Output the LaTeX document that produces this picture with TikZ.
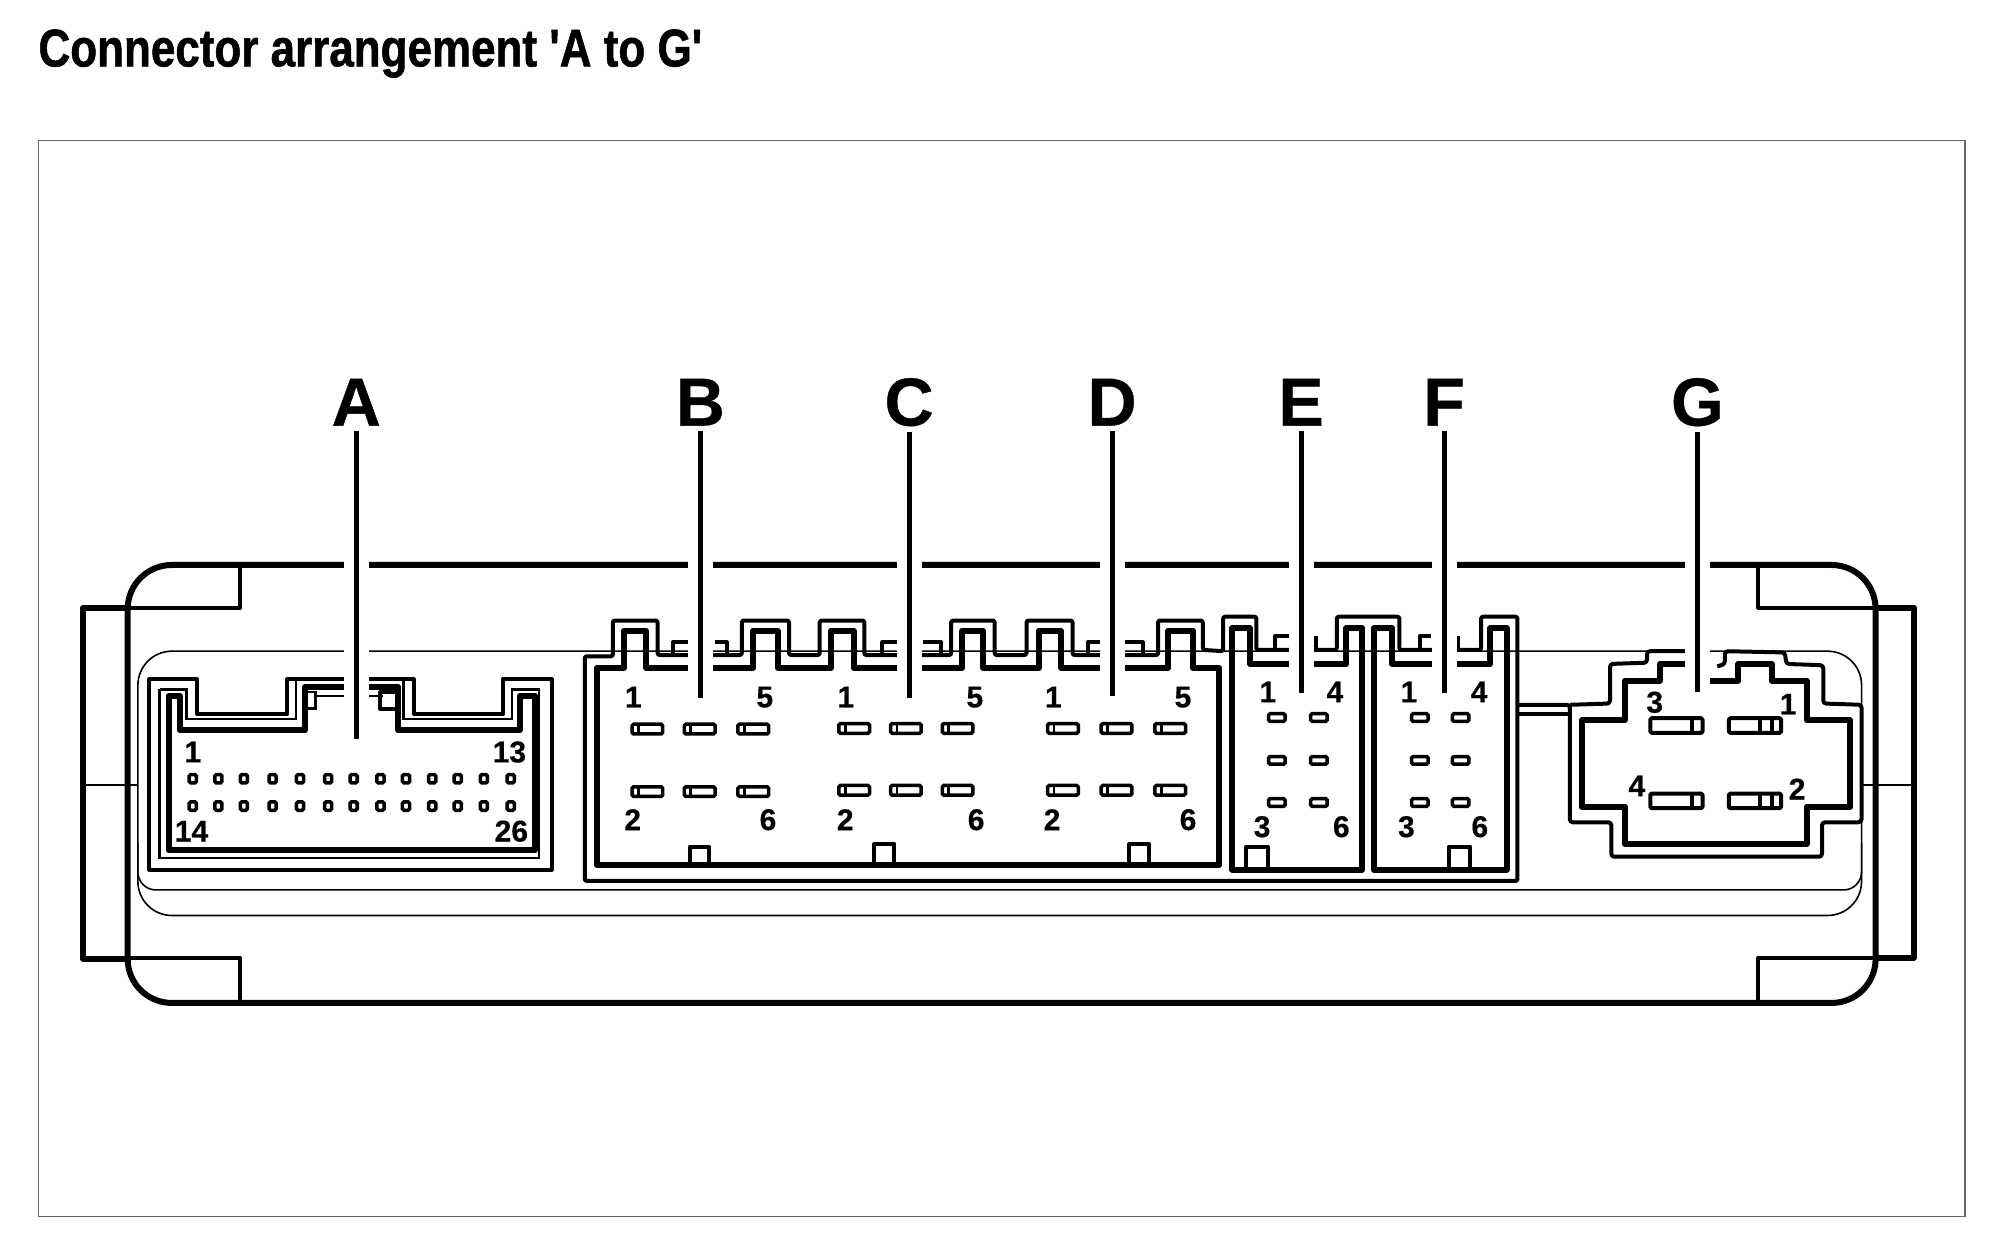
\documentclass[tikz,border=0pt]{standalone}
\usepackage{fontspec}
\setmainfont{Liberation Sans}
\newfontface\titlefont{Liberation Sans Bold}[FakeBold=1.2]
\newfontface\markfont{Liberation Sans Bold}[FakeBold=0.5]
\tikzset{
  bodyline/.style={line width=6pt,line join=round},
  wallline/.style={line width=4pt,line join=round},
  thinline/.style={line width=1.6pt},
  pinline/.style={line width=3.5pt,rounded corners=1.5pt},
  tag/.style={font=\markfont\fontsize{68}{68}\selectfont,inner sep=5.5pt},
  num/.style={font=\markfont\fontsize{30}{30}\selectfont,inner sep=0pt},
  leader/.style={line width=5pt},
  halo/.style={line width=25pt,white},
}
\begin{document}
\begin{tikzpicture}[x=1.2768pt,y=-1.2768pt]
\useasboundingbox (0,0) rectangle (1568,973.5);
\node[anchor=base west,inner sep=0pt] (title) at (30,52)
  {\scalebox{0.83}[1]{\titlefont\fontsize{53}{53}\selectfont Connector arrangement 'A to G'}};
\draw[line width=1.3pt,black!60] (30,110) rectangle (1539,953);
% housing
\draw[bodyline,rounded corners=44pt] (100,442.5) rectangle (1469,785.5);
\draw[wallline] (188,443)--(188,476)--(100,476);
\draw[wallline] (188,785)--(188,750)--(100,750);
\draw[wallline] (1377,443)--(1377,476)--(1469,476);
\draw[wallline] (1377,785)--(1377,750)--(1469,750);
\draw[bodyline] (100,476)--(65,476)--(65,751)--(100,751);
\draw[bodyline] (1469,476)--(1499,476)--(1499,750)--(1469,750);
\draw[thinline] (65,615)--(108,615);
\draw[thinline] (1459,615)--(1499,615);
% panel
\draw[thinline,rounded corners=34pt] (108,510)--(1458,510)--(1458,717)--(108,717)--cycle;
\draw[thinline,rounded corners=18pt] (108,660)--(108,697)--(1458,697)--(1458,660);
% connector A
\draw[wallline] (117,532)--(154,532)--(154,559)--(225,559)--(225,532)--(324,532)--(324,559)--(394,559)--(394,532)--(432,532)--(432,681)--(117,681)--cycle;
\draw[line width=2.5pt] (125,540)--(146,540)--(146,563)--(232,563)--(232,532);
\draw[line width=2.5pt] (316,532)--(316,563)--(401,563)--(401,540)--(422,540)--(422,672)--(125,672)--(125,540);
\draw[bodyline] (132,545)--(141,545)--(141,572)--(239,572)--(239,538)--(312,538)--(312,572)--(407,572)--(407,545)--(419,545)--(419,666)--(132,666)--cycle;
\draw[line width=2.5pt] (239,542)--(247,542)--(247,555)--(239,555);
\draw[line width=2.5pt] (247,545)--(300,545);
\draw[wallline] (312,542)--(298,542)--(298,555)--(312,555);
\foreach \x in {151,171,191,213.5,235,257,277,298,318,338.5,358.5,379,400}{
  \draw[pinline] (\x-2.8,606.6) rectangle (\x+2.8,613.2);
  \draw[pinline] (\x-2.8,628) rectangle (\x+2.8,634.6);
}
% connectors B to F
\draw[wallline,rounded corners=2pt] (458,690)--(458,514)--(480,514)--(480,486)--(515,486)--(515,513)--(581,513)--(581,486)--(618,486)--(618,513)--(642,513)--(642,486)--(677,486)--(677,513)--(745,513)--(745,486)--(779,486)--(779,513)--(804,513)--(804,486)--(840,486)--(840,513)--(907,513)--(907,486)--(942,486)--(942,509)--(958,510)--(958,483)--(984,483)--(984,509)--(1047,509)--(1047,483)--(1096,483)--(1096,509)--(1160,509)--(1160,483)--(1188.5,483)--(1188.5,690)--cycle;
\draw[wallline] (527,513)--(527,503)--(541,503) (560,503)--(569,503)--(569,513);
\draw[wallline] (691,513)--(691,503)--(704,503) (723,503)--(737,503)--(737,513);
\draw[wallline] (852,513)--(852,503)--(862,503) (881,503)--(895,503)--(895,513);
\draw[wallline] (998.5,509)--(998.5,498)--(1010,498) (1031,498)--(1031,509);
\draw[wallline] (1112,509)--(1112,498)--(1121,498) (1142,498)--(1142,509);
\draw[bodyline] (467.5,523)--(488.5,523)--(488.5,494)--(506,494)--(506,523)--(590,523)--(590,494)--(609,494)--(609,523)--(651,523)--(651,494)--(668.5,494)--(668.5,523)--(753.5,523)--(753.5,494)--(770,494)--(770,523)--(813.5,523)--(813.5,494)--(831,494)--(831,523)--(915,523)--(915,494)--(934,494)--(934,523)--(955,523)--(955,677.5)--(467.5,677.5)--cycle;
\draw[bodyline] (965,492)--(979,492)--(979,520)--(1054.5,520)--(1054.5,492)--(1067,492)--(1067,681)--(965,681)--cycle;
\draw[bodyline] (1076,492)--(1090.5,492)--(1090.5,520)--(1167,520)--(1167,492)--(1180,492)--(1180,681)--(1076,681)--cycle;
\foreach \x/\y in {507/571,548/571,590/571,507/620,548/620,590/620,669/570.5,709.5/570.5,750/570.5,669/619,709.5/619,750/619,832.5/570.5,874.5/570.5,916.5/570.5,832.5/619,874.5/619,916.5/619}{
  \draw[pinline] (\x-12,\y-3.8) rectangle (\x+12,\y+3.8);
  \draw[line width=2.6pt] (\x-7,\y-3.8)--(\x-7,\y+3.8);
}
\foreach \x in {1000,1033,1112,1144}\foreach \y in {562,595.5,628.5}{
  \draw[pinline] (\x-6.5,\y-3) rectangle (\x+6.5,\y+3);
}
\draw[wallline] (540.5,676)--(540.5,663)--(555,663)--(555,676);
\draw[wallline] (684.5,676)--(684.5,661)--(700.5,661)--(700.5,676);
\draw[wallline] (884.5,676)--(884.5,661)--(900,661)--(900,676);
\draw[wallline] (976,679)--(976,663)--(993,663)--(993,679);
\draw[wallline] (1134.5,679)--(1134.5,663)--(1151.5,663)--(1151.5,679);
% connector G
\draw[wallline,rounded corners=3pt] (1188.5,552)--(1229.5,552)--(1229.5,644)--(1262,644)--(1262,671)--(1427,671)--(1427,644)--(1458,644)--(1458,552)--(1428,551)--(1428,521)--(1399,520)--(1398,511)--(1351,510)--(1351,520)--(1345,522);
\draw[wallline,rounded corners=3pt] (1229.5,552)--(1261,551)--(1261,520)--(1290,519)--(1290,510)--(1321,510);
\draw[wallline] (1188.5,559)--(1229.5,559);
\draw[bodyline] (1239,564)--(1272.5,564)--(1272.5,533)--(1300,533)--(1300,520)--(1330,520)--(1330,533)--(1361.5,533)--(1361.5,520)--(1387.5,520)--(1387.5,533)--(1415,533)--(1415,564)--(1449,564)--(1449,632)--(1415,632)--(1415,661)--(1272.5,661)--(1272.5,632)--(1239,632)--cycle;
\foreach \x/\y in {1292.5/562.5,1292.5/621.5,1354/562.5,1354/621.5}{
  \draw[wallline,rounded corners=1.5pt] (\x,\y) rectangle (\x+41,\y+11.5);
}
\draw[wallline] (1325,562.5)--(1325,574) (1325,621.5)--(1325,633);
\draw[wallline] (1378.5,562.5)--(1378.5,574) (1387.5,562.5)--(1387.5,574);
\draw[wallline] (1378.5,621.5)--(1378.5,633) (1387.5,621.5)--(1387.5,633);
% leaders
\foreach \name/\x/\yend in {A/279/579,B/548.5/547,C/712/547,D/871/545,E/1019/543,F/1131/543,G/1329.5/542}{
  \node[tag] (\name) at (\x,315) {\name};
  \coordinate (end\name) at (\x,\yend);
  \draw[halo] (\name) -- (end\name);
  \draw[leader] (\name) -- (end\name);
}
% pin numbers
\foreach \txt/\x/\y in {1/151/589,13/399/589,14/150/651,26/400.5/651,
  1/496/546,5/599/546,2/495.5/642,6/601.5/642,
  1/662.5/546,5/763.5/546,2/662/642,6/764.5/642,
  1/825/546,5/926.5/546,2/824/642,6/930.5/642,
  1/993/542,4/1045.5/542,3/988.5/647.5,6/1050.5/647.5,
  1/1103.5/542,4/1158.5/542,3/1101.5/647.5,6/1159/647.5,
  3/1296/550,1/1400.5/551.5,4/1282/615.5,2/1407.5/618}{
  \node[num] at (\x,\y) {\txt};
}
\end{tikzpicture}
\end{document}
